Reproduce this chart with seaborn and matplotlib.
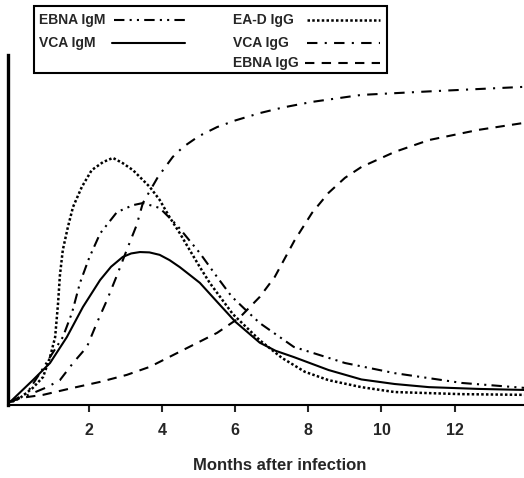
import numpy as np
import pandas as pd
import matplotlib
matplotlib.use("Agg")
import matplotlib.pyplot as plt
import seaborn as sns
from matplotlib.lines import Line2D
from matplotlib.patches import Rectangle

# values (months after infection, relative titre 0-100)
vca_igm_x = [-0.16, 0.46, 0.93, 1.39, 1.83, 2.3, 2.6, 2.92, 3.15, 3.39, 3.65, 3.93, 4.2, 4.48, 4.75, 5.03, 5.5, 6.0, 6.67, 7.1, 7.6, 8.55, 9.45, 10.36, 11.3, 12.65, 13.9]
vca_igm_y = [0.9, 7.1, 12, 19.4, 28, 35.7, 39.5, 42.3, 43.3, 43.7, 43.6, 42.9, 41.4, 39.4, 37.2, 34.9, 29.5, 23.8, 17.8, 15.5, 13.7, 10, 7.3, 6, 5.1, 4.6, 4.3]

ead_igg_x = [-0.11, 0.11, 0.46, 0.74, 0.93, 1.07, 1.15, 1.2, 1.28, 1.42, 1.56, 1.8, 2.07, 2.38, 2.65, 2.92, 3.2, 3.66, 3.93, 4.2, 4.48, 4.75, 5.03, 5.3, 5.93, 6.67, 7.27, 7.9, 8.55, 9.45, 10.36, 12.2, 13.9]
ead_igg_y = [0.9, 2, 4.9, 8, 13.7, 19.4, 29.1, 37, 44.3, 50.9, 56.6, 62.3, 67.1, 69.4, 70.6, 69.1, 67.1, 62.3, 58.6, 53.7, 49.1, 44.3, 39.4, 34.9, 26, 18.5, 13.5, 9.5, 7.1, 5.1, 3.7, 3.1, 2.9]

ebna_igm_x = [-0.16, 0.3, 0.71, 0.93, 1.28, 1.53, 1.75, 2.0, 2.3, 2.76, 3.2, 3.47, 3.93, 4.4, 5.03, 5.5, 5.9, 6.3, 6.67, 7.6, 9.0, 10.36, 12.2, 13.9]
ebna_igm_y = [0.9, 3.4, 10, 13.7, 19.4, 26.3, 34.9, 42, 49, 55.1, 57.1, 57.7, 56.3, 51.4, 43.4, 36.6, 31, 27, 23.4, 16.6, 12, 9.1, 6.3, 4.9]

vca_igg_x = [-0.16, 0.46, 0.85, 1.2, 1.56, 1.94, 2.21, 2.49, 2.76, 3.03, 3.3, 3.47, 3.88, 4.29, 4.57, 5.0, 5.5, 6.0, 6.67, 7.3, 8.1, 9.45, 11.3, 13.9]
vca_igg_y = [0.9, 3.4, 5.1, 7.1, 12, 16.6, 23.4, 30, 37, 44.3, 51.4, 57.7, 65.1, 70.9, 73.7, 76.8, 79.4, 81.3, 83.4, 85, 86.6, 88.6, 89.6, 90.9]

ebna_igg_x = [-0.16, 0.11, 0.74, 1.56, 2.3, 3.03, 3.66, 4.57, 5.5, 6.12, 6.67, 7.08, 7.62, 8.1, 8.55, 9.0, 9.45, 10.36, 11.3, 12.65, 13.9]
ebna_igg_y = [0.9, 2, 2.9, 4.9, 6.6, 8.6, 10.9, 15.7, 20.6, 25, 30.9, 36.6, 47, 54.9, 60.6, 64.9, 68, 72.3, 75.7, 78.6, 80.6]

# name, x, y, linestyle, linewidth
series = [
    ("EBNA IgM", ebna_igm_x, ebna_igm_y, (0, (5, 2.5, 1, 2.5, 1, 2.5)), 1.5),
    ("VCA IgM", vca_igm_x, vca_igm_y, "-", 1.5),
    ("EA-D IgG", ead_igg_x, ead_igg_y, (0, (1, 0.9)), 1.8),
    ("VCA IgG", vca_igg_x, vca_igg_y, (0, (5, 3.5, 1, 3.5)), 1.5),
    ("EBNA IgG", ebna_igg_x, ebna_igg_y, (0, (4.5, 3.5)), 1.5),
]

sns.set_style("white")
plt.rcParams['font.family'] = ['Liberation Sans', 'DejaVu Sans']

W, H = 524, 478
fig = plt.figure(figsize=(W / 100, H / 100), dpi=100)
ax = fig.add_axes([8 / W, 73 / H, 516 / W, 350 / H])

for name, xs, ys, ls, lw in series:
    d = pd.DataFrame({"month": xs, "titre": ys})
    sns.lineplot(data=d, x="month", y="titre", ax=ax, color="black",
                 linestyle=ls, linewidth=lw, sort=False)

ax.set_xlim(-0.22, 13.9)
ax.set_ylim(0, 100)
ax.set_xticks([2, 4, 6, 8, 10, 12])
ax.set_yticks([])
ax.set_ylabel("")
ax.tick_params(axis="x", direction="out", length=5, width=1.5, pad=8,
               labelsize=11.5, bottom=True)
for t in ax.get_xticklabels():
    t.set_fontweight("bold")
ax.set_xlabel("Months after infection", fontsize=12, fontweight="bold", va="center")
ax.xaxis.set_label_coords(272 / 516, -60 / 350)

for s in ["top", "right"]:
    ax.spines[s].set_visible(False)
ax.spines["left"].set_linewidth(2.4)
ax.spines["bottom"].set_linewidth(1.5)
ax.spines["left"].set_color("black")
ax.spines["bottom"].set_color("black")


# legend box drawn by hand: label left, sample line right
def fx(px):
    return px / W


def fy(py):
    return 1 - py / H


fig.add_artist(Rectangle((fx(34), fy(73)), fx(387) - fx(34), fy(6) - fy(73),
                         transform=fig.transFigure, facecolor="white",
                         edgecolor="black", linewidth=1.5, zorder=5))
slots = {
    "EBNA IgM": (39, 114, 186, 20),
    "VCA IgM": (39, 112, 185, 43),
    "EA-D IgG": (233, 307, 380, 20),
    "VCA IgG": (233, 307, 380, 43),
    "EBNA IgG": (233, 305, 380, 63),
}
for name, xs, ys, ls, lw in series:
    tx, l0, l1, ry = slots[name]
    fig.text(fx(tx), fy(ry), name, fontsize=10, fontweight="bold",
             ha="left", va="center", zorder=6)
    fig.add_artist(Line2D([fx(l0), fx(l1)], [fy(ry), fy(ry)],
                          transform=fig.transFigure, color="black",
                          linestyle=ls, linewidth=lw, zorder=6))

fig.savefig("out.png", dpi=100)
